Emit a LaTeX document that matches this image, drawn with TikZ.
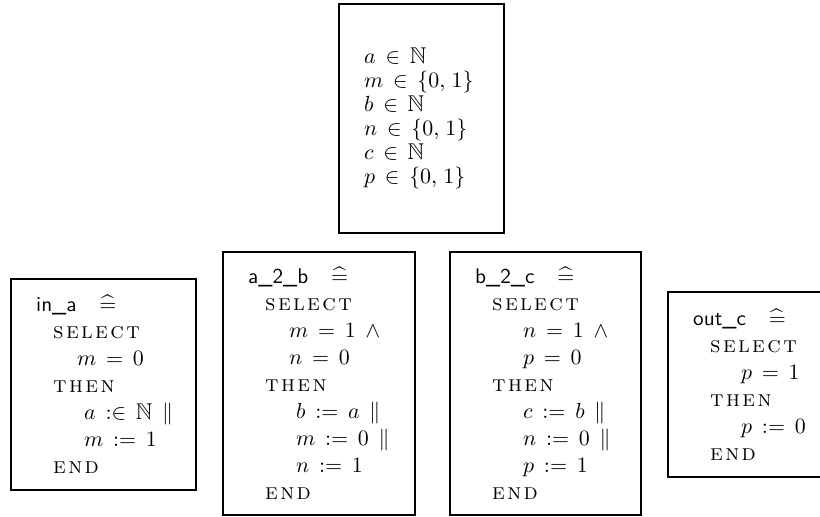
\documentclass[tikz,border=0pt]{standalone}
\usepackage{amssymb}
\thickmuskip=8mu plus 2mu
\medmuskip=6mu plus 2mu minus 2mu
\thinmuskip=5mu
\relpenalty=10000
\binoppenalty=10000
\newcommand{\defeq}{\mathrel{\widehat{=}}}
\def\kwspread#1{\ifx#1\relax\else#1\kern1.2pt\expandafter\kwspread\fi}
\newcommand{\kw}[1]{\textsc{\kwspread#1\relax}}
\newcommand{\opname}[1]{{\fontsize{10.6}{13.5}\selectfont\textsf{#1}}}
\newcommand{\lvA}{\hspace*{8.5pt}}
\newcommand{\lvG}{\hspace*{20.5pt}}
\newcommand{\lvB}{\hspace*{24pt}}
\tikzset{
  machbox/.style={draw, line width=1.2pt, align=left, anchor=north west,
                  inner xsep=12.5pt, inner ysep=0pt,
                  font=\fontsize{11.4}{13.5}\selectfont},
  varbox/.style={machbox, font=\fontsize{11.4}{12}\selectfont},
}
\begin{document}
\begin{tikzpicture}[x=0.5pt, y=-0.5pt]
  \useasboundingbox (0,0) rectangle (820,516);
  % state variables
  \node[varbox, text width=57.5pt, minimum height=114.5pt] (vars) at (338,3) {
    $a \in \mathbb{N}$\\
    $m \in \{0, 1\}$\\
    $b \in \mathbb{N}$\\
    $n \in \{0, 1\}$\\
    $c \in \mathbb{N}$\\
    $p \in \{0, 1\}$\\[5pt]};
  % events
  \node[machbox, text width=67.5pt, minimum height=105.5pt] (ina) at (10,278) {
    \opname{in\_a}\quad$\defeq$\\
    \lvA\kw{select}\\
    \lvG$m = 0$\\
    \lvA\kw{then}\\
    \lvB$a :\in \mathbb{N} \parallel$\\
    \lvB$m := 1$\\
    \lvA\kw{end}};
  \node[machbox, text width=71pt, minimum height=131.5pt] (atob) at (222,251) {
    \opname{a\_2\_b}\quad$\defeq$\\
    \lvA\kw{select}\\
    \lvG$m = 1 \;\wedge$\\
    \lvG$n = 0$\\
    \lvA\kw{then}\\
    \lvB$b := a \parallel$\\
    \lvB$m := 0 \parallel$\\
    \lvB$n := 1$\\
    \lvA\kw{end}};
  \node[machbox, text width=70.5pt, minimum height=131.5pt] (btoc) at (449,251) {
    \opname{b\_2\_c}\quad$\defeq$\\
    \lvA\kw{select}\\
    \lvB$n = 1 \;\wedge$\\
    \lvB$p = 0$\\
    \lvA\kw{then}\\
    \lvB$c := b \parallel$\\
    \lvB$n := 0 \parallel$\\
    \lvB$p := 1$\\
    \lvA\kw{end}};
  \node[machbox, text width=60pt, minimum height=92.5pt] (outc) at (667,291) {
    \opname{out\_c}\quad$\defeq$\\
    \lvA\kw{select}\\
    \lvB$p = 1$\\
    \lvA\kw{then}\\
    \lvB$p := 0$\\
    \lvA\kw{end}};
\end{tikzpicture}
\end{document}
